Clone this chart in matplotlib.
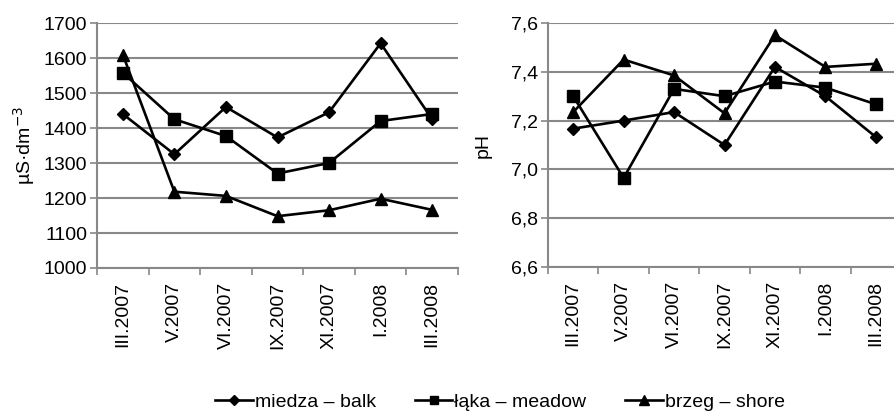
import matplotlib
matplotlib.use("Agg")
import matplotlib.pyplot as plt
import numpy as np

plt.rcParams['font.family'] = ['Liberation Sans', 'DejaVu Sans']

months = ["III.2007", "V.2007", "VI.2007", "IX.2007", "XI.2007", "I.2008", "III.2008"]

# conductivity, µS·dm-3
cond_miedza = [1440, 1325, 1460, 1373, 1445, 1642, 1425]
cond_laka = [1558, 1425, 1377, 1270, 1300, 1420, 1440]
cond_brzeg = [1610, 1218, 1206, 1148, 1165, 1198, 1166]

# pH
ph_miedza = [7.167, 7.20, 7.235, 7.10, 7.42, 7.30, 7.133]
ph_laka = [7.30, 6.965, 7.33, 7.30, 7.36, 7.335, 7.267]
ph_brzeg = [7.235, 7.45, 7.385, 7.23, 7.55, 7.42, 7.433]

labels = ["miedza \u2013 balk", "\u0142\u0105ka \u2013 meadow", "brzeg \u2013 shore"]
markers = ["D", "s", "^"]
msizes = [6, 8, 8.5]
grid_c = "#888888"
fs = 14

fig = plt.figure(figsize=(8.94, 4.12), dpi=100)
ax1 = fig.add_axes([97 / 894, 144 / 412, 361 / 894, 245 / 412])
ax2 = fig.add_axes([548 / 894, 145 / 412, 353 / 894, 244 / 412])


def draw(ax, series, ylim, step, fmt, ylabel, lpad):
    x = np.arange(len(months))
    handles = []
    for vals, m, ms, lab in zip(series, markers, msizes, labels):
        h, = ax.plot(x, vals, color="black", lw=1.9, marker=m, ms=ms,
                     markeredgecolor="black", markerfacecolor="black", label=lab)
        handles.append(h)
    ax.set_xlim(-0.5, len(months) - 0.5)
    ax.set_ylim(*ylim)
    yt = np.arange(ylim[0], ylim[1] + step / 2, step)
    ax.set_yticks(yt)
    ax.set_yticklabels([fmt(v) for v in yt], fontsize=fs)
    ax.set_xticks(np.arange(-0.5, len(months), 1.0))
    ax.set_xticklabels([])
    ax.set_xticks(x, minor=True)
    ax.set_xticklabels(months, minor=True, rotation=90, fontsize=fs)
    ax.tick_params(axis="x", which="major", length=5, width=1.2, color=grid_c)
    ax.tick_params(axis="x", which="minor", length=0, pad=10)
    ax.tick_params(axis="y", length=5, width=1.2, color=grid_c, pad=2)
    ax.grid(axis="y", color=grid_c, lw=1.5)
    ax.set_axisbelow(True)
    for s in ["top", "right"]:
        ax.spines[s].set_visible(False)
    for s in ["left", "bottom"]:
        ax.spines[s].set_color(grid_c)
        ax.spines[s].set_linewidth(1.5)
    ax.set_ylabel(ylabel, fontsize=fs, labelpad=lpad)
    return handles


handles = draw(ax1, [cond_miedza, cond_laka, cond_brzeg], (1000, 1700), 100,
               lambda v: f"{v:.0f}", "\u00b5S\u00b7dm$^{-3}$", 5)
draw(ax2, [ph_miedza, ph_laka, ph_brzeg], (6.6, 7.6), 0.2,
     lambda v: f"{v:.1f}".replace(".", ","), "pH", 14)

fig.legend(handles=handles, loc="center", bbox_to_anchor=(500 / 894, 1 - 402 / 412),
           ncol=3, frameon=False, fontsize=fs, handlelength=1.95, handletextpad=0.1,
           columnspacing=2.0, markerscale=0.8, borderpad=0, borderaxespad=0)

fig.savefig("out.png", dpi=100)
